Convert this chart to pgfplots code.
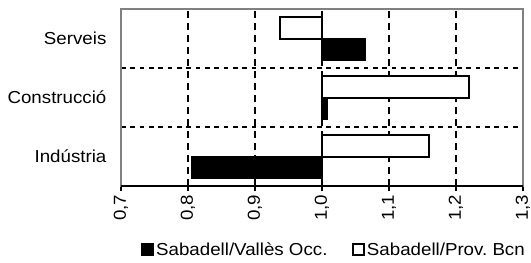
\documentclass[border=0pt]{standalone}
\usepackage{pgfplots}
\pgfplotsset{compat=1.18}
\usepackage{fontspec}
\setmainfont{Liberation Sans}[FakeStretch=1.08]
\begin{document}
\begin{tikzpicture}
\begin{axis}[
  scale only axis,
  width=301.5pt, height=132.75pt,
  xmin=-0.3, xmax=0.3, ymin=-0.5, ymax=2.5,
  xbar, bar width=0.364,
  font=\fontsize{13}{15}\selectfont,
  /pgf/number format/assume math mode=true,
  xtick={-0.3,-0.2,-0.1,0,0.1,0.2,0.3},
  xticklabels={{0,7},{0,8},{0,9},{1,0},{1,1},{1,2},{1,3}},
  xticklabel style={rotate=90, anchor=east, inner sep=2.5pt},
  xtick pos=bottom, tick align=outside,
  major tick length=3.75pt,
  xtick style={black, line width=0.8pt},
  ytick={0,1,2},
  yticklabels={Indústria,Construcció,Serveis},
  ytick style={draw=none},
  yticklabel style={inner sep=0pt, xshift=-7pt},
  minor ytick={0.5,1.5},
  minor y tick style={draw=none},
  xmajorgrids, yminorgrids,
  major x grid style={black, line width=1.5pt, dash pattern=on 5pt off 4pt},
  minor y grid style={black, line width=1pt, dash pattern=on 3.5pt off 3.5pt},
  extra x ticks={0},
  extra x tick labels={},
  extra x tick style={grid=major, major grid style={black, solid, line width=1.5pt}},
  axis line style={gray, line width=1pt},
  legend columns=2,
  legend style={draw=none, fill=none, at={(0.05,-0.36)}, anchor=west,
    inner sep=0pt,
    font=\fontsize{13}{15}\selectfont,
    nodes={inner sep=1.5pt},
    /tikz/column 2/.style={column sep=16.5pt}},
  legend image code/.code={\draw[#1] (0pt,-4.3pt) rectangle (8.6pt,4.3pt);},
]
\addplot[fill=black, draw=black, line width=1pt, bar shift=-0.182,
  x filter/.expression={x-1}]
  coordinates {(1.065,2) (1.008,1) (0.806,0)};
\addlegendentry{Sabadell/Vallès Occ.}
\addplot[fill=white, draw=black, line width=1.5pt, bar shift=0.182,
  x filter/.expression={x-1}]
  coordinates {(0.937,2) (1.219,1) (1.160,0)};
\addlegendentry{Sabadell/Prov.\ Bcn}
\draw[black, line width=1pt] (rel axis cs:0,0) -- (rel axis cs:1,0);
\end{axis}
\pgfresetboundingbox
\useasboundingbox (-90.75pt,-57pt) rectangle (307.5pt,139.5pt);
\end{tikzpicture}
\end{document}
